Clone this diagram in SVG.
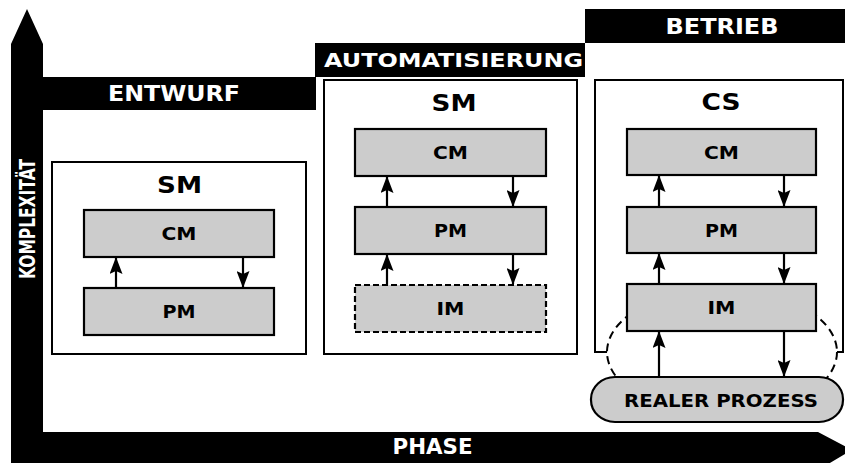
<svg xmlns="http://www.w3.org/2000/svg" width="845" height="463" viewBox="0 0 845 463">
<style>
text{font-family:"DejaVu Sans","Liberation Sans",sans-serif;font-weight:bold;text-anchor:middle}
.w{fill:#fff}
.k{fill:#000}
.frame{fill:#fff;stroke:#000;stroke-width:2}
.mod{fill:#ccc;stroke:#000;stroke-width:2.2}
.dash{stroke-dasharray:6,3}
.ln{stroke:#000;stroke-width:2.2;fill:none;marker-end:url(#ah)}
.bar{fill:#000}
</style>
<defs>
<marker id="ah" viewBox="0 0 17 13" refX="16" refY="6.5" markerWidth="17" markerHeight="13" markerUnits="userSpaceOnUse" orient="auto">
<path d="M0,0 L17,6.5 L0,13 L3,6.5 Z" fill="#000"/>
</marker>
</defs>
<g id="axes">
<path d="M11,470 L11,44 L27,9 L43,44 L43,432 L818,432 L852,450 L818,470 Z" fill="#000"/>
<text class="w" x="0" y="0" font-size="21" textLength="120" lengthAdjust="spacingAndGlyphs" transform="translate(35,219) rotate(-90)">KOMPLEXITÄT</text>
<text class="w" x="432.5" y="454.3" font-size="21" textLength="80" lengthAdjust="spacingAndGlyphs">PHASE</text>
</g>
<g id="phase-entwurf">
<rect class="bar" x="43" y="77" width="273" height="33"/>
<text class="w" x="174" y="101" font-size="22" textLength="132" lengthAdjust="spacingAndGlyphs">ENTWURF</text>
</g>
<g id="phase-automatisierung">
<rect class="bar" x="315" y="43" width="270" height="34"/>
<text class="w" x="453.5" y="66.5" font-size="19" textLength="259" lengthAdjust="spacingAndGlyphs">AUTOMATISIERUNG</text>
</g>
<g id="phase-betrieb">
<rect class="bar" x="585" y="9" width="262" height="34"/>
<text class="w" x="722" y="34.3" font-size="22" textLength="113" lengthAdjust="spacingAndGlyphs">BETRIEB</text>
</g>
<g id="sm-entwurf">
<rect class="frame" x="52" y="162" width="254" height="192"/>
<text class="k" x="179.5" y="193" font-size="23" textLength="45" lengthAdjust="spacingAndGlyphs">SM</text>
</g>
<g id="cm-entwurf">
<rect class="mod" x="84" y="210" width="190" height="47"/>
<text class="k" x="179" y="240" font-size="17" textLength="35" lengthAdjust="spacingAndGlyphs">CM</text>
</g>
<g id="pm-entwurf">
<rect class="mod" x="84" y="288" width="190" height="47"/>
<text class="k" x="179" y="318" font-size="17" textLength="33" lengthAdjust="spacingAndGlyphs">PM</text>
</g>
<g id="sm-automatisierung">
<rect class="frame" x="324" y="80" width="253" height="274"/>
<text class="k" x="454" y="111" font-size="23" textLength="45" lengthAdjust="spacingAndGlyphs">SM</text>
</g>
<g id="cm-automatisierung">
<rect class="mod" x="355" y="129" width="191" height="47"/>
<text class="k" x="450.5" y="159" font-size="17" textLength="35" lengthAdjust="spacingAndGlyphs">CM</text>
</g>
<g id="pm-automatisierung">
<rect class="mod" x="355" y="207" width="191" height="47"/>
<text class="k" x="450.5" y="237" font-size="17" textLength="33" lengthAdjust="spacingAndGlyphs">PM</text>
</g>
<g id="im-automatisierung">
<rect class="mod dash" x="355" y="285" width="191" height="47"/>
<text class="k" x="450.5" y="315" font-size="17" textLength="28" lengthAdjust="spacingAndGlyphs">IM</text>
</g>
<g id="cs-betrieb">
<rect class="frame" x="595" y="80" width="248" height="272"/>
<text class="k" x="721" y="110" font-size="23" textLength="39" lengthAdjust="spacingAndGlyphs">CS</text>
</g>
<g id="process-loop">
<ellipse cx="722" cy="352" rx="115" ry="63" fill="#fff" stroke="#000" stroke-width="2" stroke-dasharray="8,5"/>
</g>
<g id="cm-betrieb">
<rect class="mod" x="627" y="129" width="189" height="46"/>
<text class="k" x="721.5" y="158.5" font-size="17" textLength="35" lengthAdjust="spacingAndGlyphs">CM</text>
</g>
<g id="pm-betrieb">
<rect class="mod" x="627" y="207" width="189" height="46"/>
<text class="k" x="721.5" y="236.5" font-size="17" textLength="33" lengthAdjust="spacingAndGlyphs">PM</text>
</g>
<g id="im-betrieb">
<rect class="mod" x="627" y="284" width="189" height="47"/>
<text class="k" x="721.5" y="313.5" font-size="17" textLength="28" lengthAdjust="spacingAndGlyphs">IM</text>
</g>
<g id="realer-prozess">
<rect class="mod" x="591" y="377" width="252" height="45" rx="24" ry="22"/>
<text class="k" x="721" y="406.7" font-size="18.5" textLength="194" lengthAdjust="spacingAndGlyphs">REALER PROZESS</text>
</g>
<g id="connectors">
<line class="ln" x1="116" y1="288" x2="116" y2="258"/>
<line class="ln" x1="243" y1="257" x2="243" y2="287"/>
<line class="ln" x1="387" y1="207" x2="387" y2="177"/>
<line class="ln" x1="513" y1="176" x2="513" y2="206"/>
<line class="ln" x1="387" y1="285" x2="387" y2="255"/>
<line class="ln" x1="513" y1="254" x2="513" y2="284"/>
<line class="ln" x1="659" y1="207" x2="659" y2="176"/>
<line class="ln" x1="784" y1="175" x2="784" y2="206"/>
<line class="ln" x1="659" y1="284" x2="659" y2="254"/>
<line class="ln" x1="784" y1="253" x2="784" y2="283"/>
<line class="ln" x1="659" y1="377" x2="659" y2="332"/>
<line class="ln" x1="784" y1="331" x2="784" y2="376"/>
</g>
</svg>
